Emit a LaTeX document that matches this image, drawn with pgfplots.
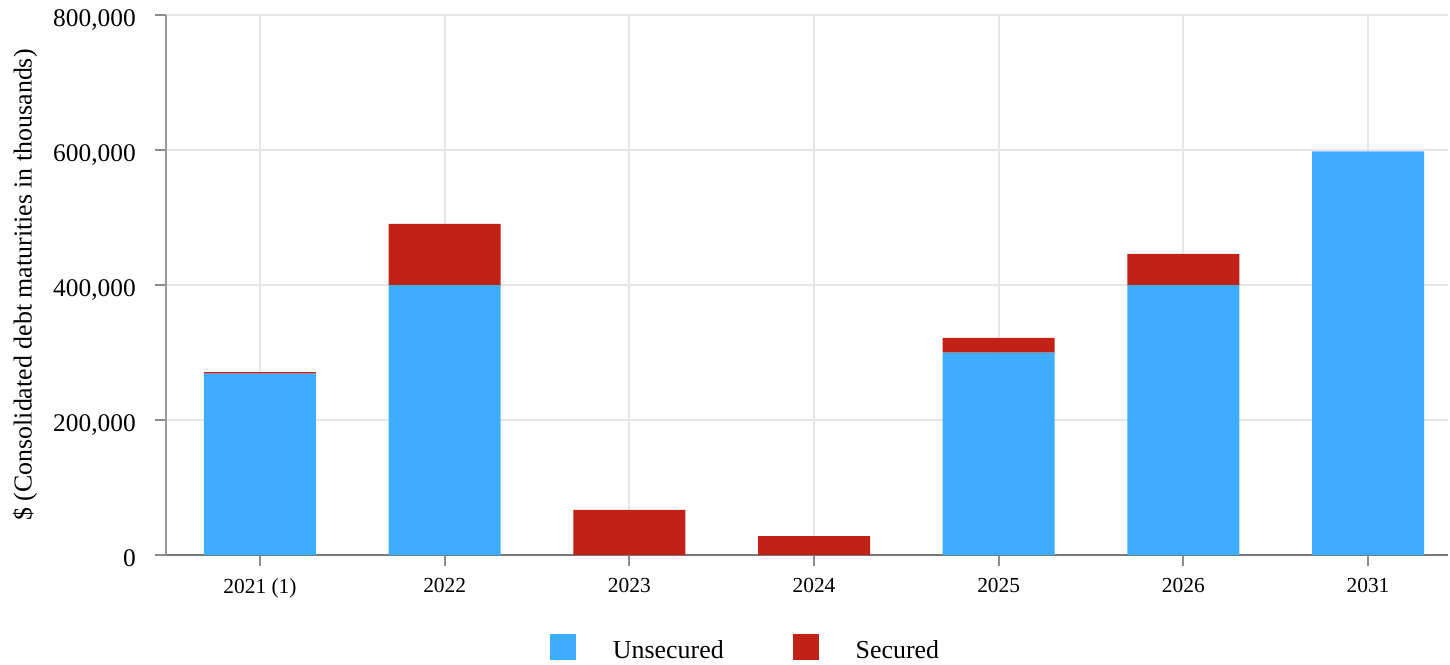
\documentclass[border=0pt]{standalone}
\usepackage{pgfplots}
\pgfplotsset{compat=1.18}
\usepackage{fontspec}
\setmainfont{Liberation Serif}
\definecolor{unsec}{HTML}{3FADFF}
\definecolor{sec}{HTML}{C02218}
\definecolor{gridc}{HTML}{E6E6E6}
\begin{document}
\begin{tikzpicture}
\useasboundingbox (-166bp,-110bp) rectangle (1284bp,555bp);
\begin{axis}[
  scale only axis,
  width=1282bp, height=540bp,
  ybar stacked,
  bar width=0.6065,
  xmin=-0.509, xmax=6.433,
  ymin=0, ymax=800000,
  xtick={0,1,2,3,4,5,6},
  xticklabels={2021 (1),2022,2023,2024,2025,2026,2031},
  ytick={0,200000,400000,600000,800000},
  scaled y ticks=false,
  yticklabel={\pgfmathprintnumber[fixed,precision=0,1000 sep={,},assume math mode=true]{\tick}},
  axis x line*=bottom, axis y line*=left,
  x axis line style={draw=black!53, line width=2.6bp, -},
  y axis line style={draw=black!40, line width=2bp, -},
  tick align=outside,
  major tick length=11bp,
  tick style={draw=black!45, line width=2bp},
  xmajorgrids, ymajorgrids,
  grid style={draw=gridc, line width=2bp},
  yticklabel style={font=\fontsize{25.5}{30}\selectfont, anchor=base east, inner sep=0pt, xshift=-19bp, yshift=-11.5bp},
  xticklabel style={font=\fontsize{21.5}{26}\selectfont, anchor=north, inner sep=0pt, yshift=-12bp},
  ylabel={\$ (Consolidated debt maturities in thousands)},
  ylabel style={font=\fontsize{26}{30}\selectfont, at={(axis description cs:-0.1100,0.5)}, anchor=center, inner sep=0pt},
  legend columns=2,
  legend style={at={(0.2995,-0.1704)}, anchor=west, draw=none, fill=none, inner sep=0pt, outer sep=0pt,
    nodes={font=\fontsize{26}{30}\selectfont, inner sep=0pt, anchor=west, yshift=-3bp},
    /tikz/column 1/.style={column sep=37bp},
    /tikz/column 2/.style={column sep=69bp},
    /tikz/column 3/.style={column sep=37bp}},
]
\addplot+[fill=unsec, draw=none, legend image code/.code={\fill[unsec] (0bp,-13bp) rectangle (26bp,13bp);}]
  coordinates {(0,268600) (1,400000) (2,0) (3,0) (4,300000) (5,400000) (6,598000)};
\addlegendentry{Unsecured}
\addplot+[fill=sec, draw=none, legend image code/.code={\fill[sec] (0bp,-13bp) rectangle (26bp,13bp);}]
  coordinates {(0,2500) (1,90400) (2,66700) (3,28100) (4,21500) (5,46000) (6,0)};
\addlegendentry{Secured}
\end{axis}
\end{tikzpicture}
\end{document}
